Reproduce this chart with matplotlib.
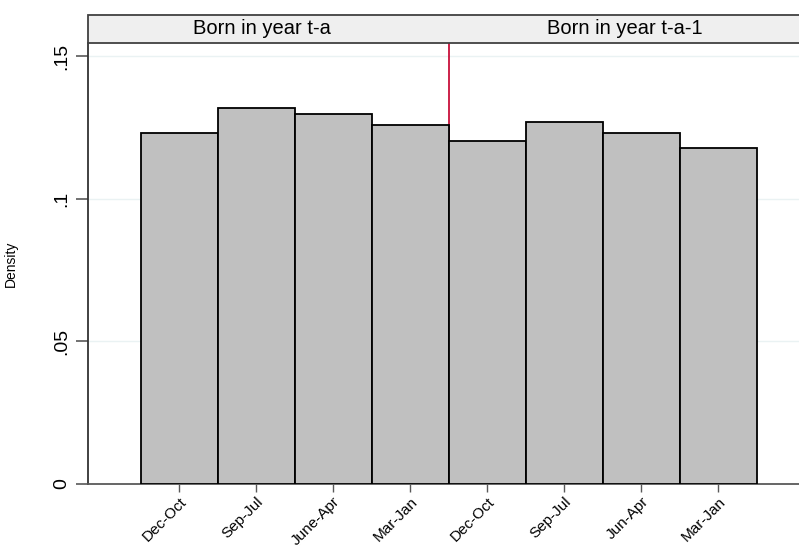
import matplotlib
matplotlib.use("Agg")
import matplotlib.pyplot as plt
from matplotlib.patches import Rectangle

categories = ["Dec-Oct", "Sep-Jul", "June-Apr", "Mar-Jan", "Dec-Oct", "Sep-Jul", "Jun-Apr", "Mar-Jan"]
density = [0.1230, 0.1318, 0.1297, 0.1258, 0.1202, 0.1268, 0.1230, 0.1177]
group_titles = ["Born in year t-a", "Born in year t-a-1"]
ytick_vals = [0, 0.05, 0.10, 0.15]
ytick_labels = ["0", ".05", ".1", ".15"]
cutoff = 4.5

plt.rcParams['font.family'] = ['Liberation Sans', 'DejaVu Sans']

W, H = 799, 547
fig = plt.figure(figsize=(W / 100, H / 100), dpi=100)
L, R, T, B = 88, 799, 43, 484
ax = fig.add_axes([L / W, 1 - B / H, (R - L) / W, (B - T) / H])

x = list(range(1, len(density) + 1))
ax.bar(x, density, width=1.0, color="#c0c0c0", edgecolor="black", linewidth=1.3, zorder=3)
ax.axvline(cutoff, color="#c8103a", linewidth=1.3, zorder=2)

ax.set_xlim(-0.182, 9.05)
ax.set_ylim(0, 0.1546)
ax.set_yticks(ytick_vals)
ax.set_yticklabels(ytick_labels, rotation=90, va="center", fontsize=14)
ax.set_xticks(x)
ax.set_xticklabels(categories, rotation=45, ha="right", rotation_mode="anchor", fontsize=11)
for yv in ytick_vals[1:]:
    ax.axhline(yv, color="#eaf2f3", linewidth=1.0, zorder=1)

ax.tick_params(axis="y", length=9, width=1.2, color="#595959", pad=4)
ax.tick_params(axis="x", length=6, width=1.0, color="#595959", pad=1.5)
for s in ["top", "right"]:
    ax.spines[s].set_visible(False)
ax.spines["left"].set_color("#333333")
ax.spines["left"].set_linewidth(1.3)
ax.spines["bottom"].set_color("#595959")
ax.spines["bottom"].set_linewidth(1.3)

ax.set_ylabel("Density", fontsize=10)
ax.yaxis.set_label_coords(-(L - 18) / (R - L), 0.5)

# header band
hx0, hx1, hy0, hy1 = 88, 800, 15, 43
rect = Rectangle((hx0 / W, 1 - hy1 / H), (hx1 - hx0) / W, (hy1 - hy0) / H,
                 transform=fig.transFigure, facecolor="#efefef", edgecolor="#404040",
                 linewidth=1.3, clip_on=False)
fig.patches.append(rect)
for cx, t in zip([262, 625], group_titles):
    fig.text(cx / W, 1 - 29 / H, t, ha="center", va="center", fontsize=14.5)

fig.savefig("out.png", dpi=100)
